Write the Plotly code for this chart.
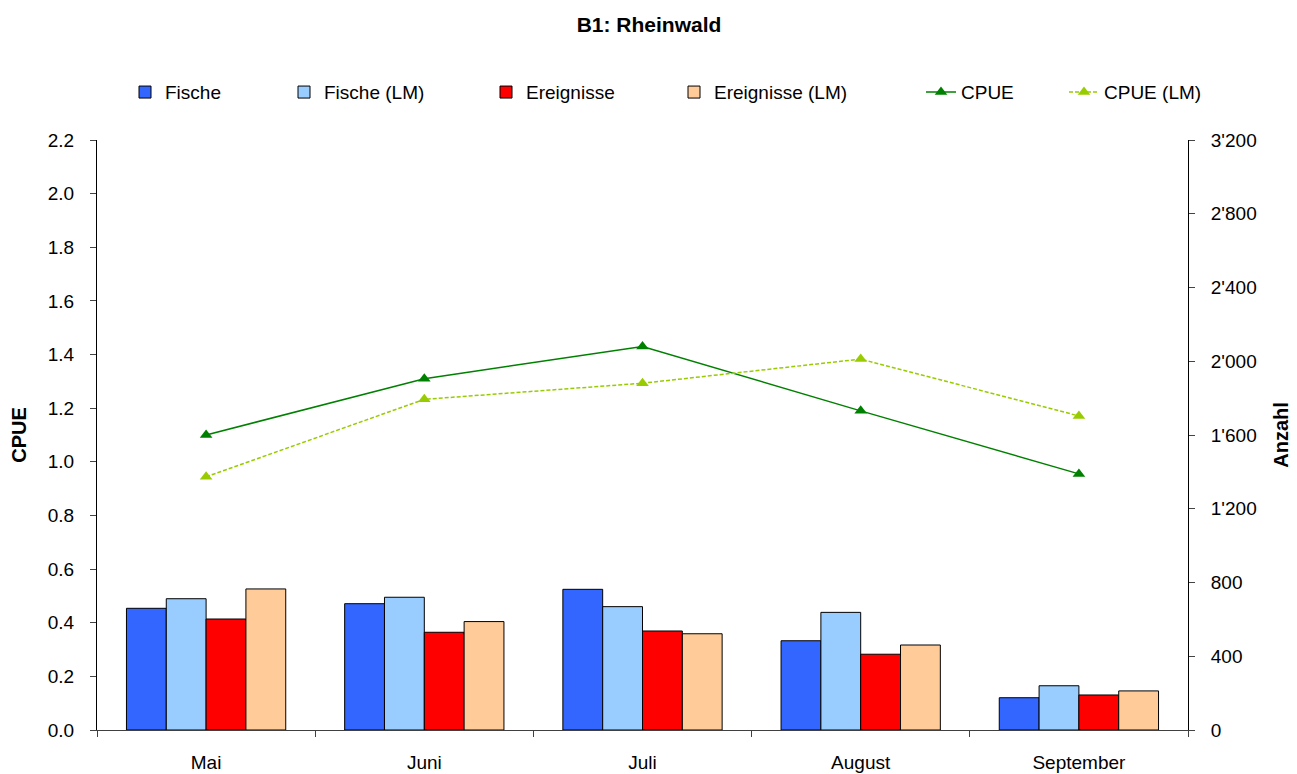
import plotly.graph_objects as go

months = ["Mai", "Juni", "Juli", "August", "September"]
fische = [660, 685, 763, 484, 175]
fische_lm = [712, 720, 669, 638, 240]
ereignisse = [602, 530, 537, 411, 190]
ereignisse_lm = [765, 588, 522, 461, 212]
cpue = [1.10, 1.31, 1.43, 1.19, 0.955]
cpue_lm = [0.944, 1.233, 1.293, 1.383, 1.171]

FONT = "Arial, Liberation Sans, sans-serif"
fig = go.Figure()

bar_specs = [
    ("Fische", fische, "#3366FF", "legend"),
    ("Fische (LM)", fische_lm, "#99CCFF", "legend2"),
    ("Ereignisse", ereignisse, "#FF0000", "legend3"),
    ("Ereignisse (LM)", ereignisse_lm, "#FFCC99", "legend4"),
]
for name, vals, col, lg in bar_specs:
    fig.add_trace(go.Bar(x=months, y=vals, name=name, legend=lg,
                         marker=dict(color=col, line=dict(color="black", width=1)),
                         yaxis="y"))

fig.add_trace(go.Scatter(x=months, y=cpue, name="CPUE", mode="lines+markers", yaxis="y2", legend="legend5",
                         line=dict(color="#008000", width=1.5),
                         marker=dict(symbol="triangle-up", size=11, color="#008000")))
fig.add_trace(go.Scatter(x=months, y=cpue_lm, name="CPUE (LM)", mode="lines+markers", yaxis="y2", legend="legend6",
                         line=dict(color="#99CC00", width=1.5, dash="4px,2px"),
                         marker=dict(symbol="triangle-up", size=11, color="#99CC00")))

plot_w = 1297 - 89 - 117
leg_px = [125, 284, 486, 674, 921, 1064]
legends = {}
for i, px in enumerate(leg_px):
    key = "legend" if i == 0 else f"legend{i+1}"
    legends[key] = dict(orientation="h", x=(px - 97) / plot_w, xanchor="left", y=1.081, yanchor="middle",
                        font=dict(size=19, family=FONT), bgcolor="rgba(0,0,0,0)",
                        borderwidth=0)

fig.update_layout(
    width=1297, height=774,
    paper_bgcolor="white", plot_bgcolor="white",
    font=dict(family=FONT, size=19, color="black"),
    separators=".'",
    margin=dict(l=89, r=117, t=132, b=52, autoexpand=False),
    title=dict(text="<b>B1: Rheinwald</b>", x=0.506, xref="paper", xanchor="center",
               y=0.979, yanchor="middle", font=dict(size=21, family=FONT)),
    barmode="group", bargap=0.27, bargroupgap=0,
    showlegend=True,
    xaxis=dict(type="category", showline=True, linecolor="#404040", linewidth=1, automargin=False,
               ticks="outside", tickson="boundaries", ticklen=6, tickcolor="#404040",
               showgrid=False, tickfont=dict(size=19), ticklabelstandoff=15),
    yaxis=dict(side="right", range=[0, 3200], dtick=400, tickformat=",d", showline=True, automargin=False,
               linecolor="black", ticks="outside", ticklen=6, showgrid=False, zeroline=False,
               ticklabelstandoff=12,
               title=dict(text="<b>Anzahl</b>", font=dict(size=20), standoff=18),
               tickfont=dict(size=19)),
    yaxis2=dict(side="left", overlaying="y", range=[0, 2.2], dtick=0.2, tickformat=".1f", automargin=False,
                showline=True, linecolor="black", ticks="outside", ticklen=6, showgrid=False,
                zeroline=False, ticklabelstandoff=12,
                title=dict(text="<b>CPUE</b>", font=dict(size=20), standoff=18),
                tickfont=dict(size=19)),
    **legends,
)

fig.write_html("out.html")
